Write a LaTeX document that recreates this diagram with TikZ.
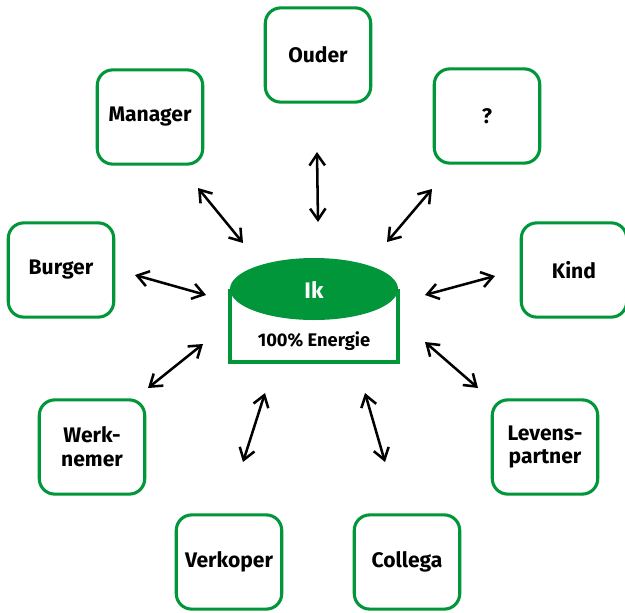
\documentclass[tikz,border=0pt]{standalone}
\usepackage{fontspec}
\setmainfont{Fira Sans}[BoldFont={Fira Sans Bold}]
\usetikzlibrary{arrows.meta}
\definecolor{rolgroen}{RGB}{0,150,57}
\tikzset{
  rol/.style={draw=rolgroen, line width=2.2pt, rounded corners=11pt, fill=white,
    minimum width=75pt, minimum height=67pt, align=center,
    font=\bfseries\fontsize{15}{17}\selectfont},
  pijl/.style={{Straight Barb[length=8pt,width=11pt]}-{Straight Barb[length=8pt,width=11pt]},
    line width=1.8pt, line cap=round}
}
\begin{document}
\begin{tikzpicture}[x=0.025cm, y=-0.025cm]
      \useasboundingbox (0,0) rectangle (625,612);
      % centrale cilinder
      \draw[draw=rolgroen, line width=2.2pt, fill=white] (230,289) -- (230,362) -- (398,362) -- (398,289);
      \fill[rolgroen] (314,289) ellipse [x radius=84, y radius=31];
      \node[text=white, font=\bfseries\fontsize{16}{18}\selectfont] (ik) at (314,290) {Ik};
      \node[font=\bfseries\fontsize{13}{15}\selectfont] (energie) at (314,341) {100\% Energie};
      % rollen
      \draw
        (318,55) node[rol] (ouder){Ouder}
        (150,117) node[rol] (manager){Manager}
        (487,116) node[rol] (vraag){?}
        (61,270) node[rol] (burger){Burger}
        (574,270) node[rol] (kind){Kind}
        (92,447) node[rol] (werknemer){Werk-\\nemer}
        (545,447) node[rol] (partner){Levens-\\partner}
        (229,562) node[rol] (verkoper){Verkoper}
        (407,562) node[rol] (collega){Collega};
      % pijlpunten
      \coordinate (a1) at (317,152); \coordinate (b1) at (318,222);
      \coordinate (a2) at (198,188); \coordinate (b2) at (243,243);
      \coordinate (a3) at (432,189); \coordinate (b3) at (387,242);
      \coordinate (a4) at (135,275); \coordinate (b4) at (206,295);
      \coordinate (a5) at (495,276); \coordinate (b5) at (425,295);
      \coordinate (a6) at (148,388); \coordinate (b6) at (203,344);
      \coordinate (a7) at (478,388); \coordinate (b7) at (425,342);
      \coordinate (a8) at (243,462); \coordinate (b8) at (265,393);
      \coordinate (a9) at (385,462); \coordinate (b9) at (365,393);
      \begin{scope}[pijl]
        \draw (a1) to (b1);
        \draw (a2) to (b2);
        \draw (a3) to (b3);
        \draw (a4) to (b4);
        \draw (a5) to (b5);
        \draw (a6) to (b6);
        \draw (a7) to (b7);
        \draw (a8) to (b8);
        \draw (a9) to (b9);
      \end{scope}
    \end{tikzpicture}
\end{document}
